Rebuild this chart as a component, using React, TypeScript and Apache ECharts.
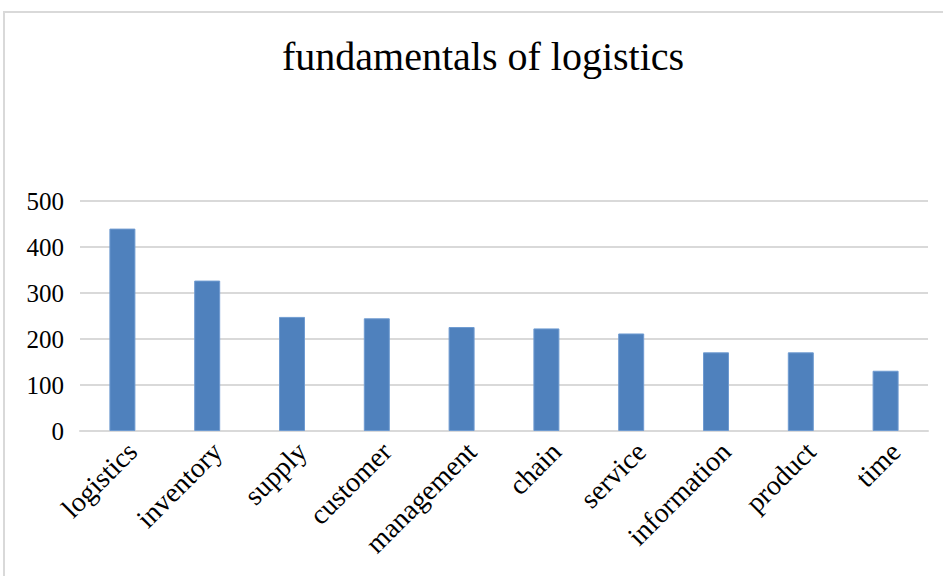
import React, { useEffect, useRef } from "react";
import * as echarts from "echarts";

const titleText = "fundamentals of logistics";
const categories = ["logistics", "inventory", "supply", "customer", "management", "chain", "service", "information", "product", "time"];
const values = [440, 327, 248, 245, 226, 223, 212, 171, 171, 131];
const yTicks = [0, 100, 200, 300, 400, 500];

export default function App() {
  const ref = useRef<HTMLDivElement>(null);
  useEffect(() => {
    if (!ref.current) return;
    const chart = echarts.init(ref.current, undefined, { renderer: "svg" });
    const font = "Liberation Serif";
    chart.setOption({
      animation: false,
      backgroundColor: "#ffffff",
      graphic: [
        {
          type: "rect",
          shape: { x: 4, y: 12, width: 960, height: 600 },
          style: { fill: "none", stroke: "#d9d9d9", lineWidth: 2 },
          silent: true,
        },
      ],
      title: {
        text: titleText,
        left: 277,
        top: 31,
        textStyle: { fontFamily: font, fontSize: 40, fontWeight: "normal", color: "#000" },
      },
      grid: { left: 80, right: 15, top: 201, bottom: 145, containLabel: false },
      xAxis: {
        type: "category",
        data: categories,
        axisLine: { show: true, lineStyle: { color: "#d9d9d9", width: 2 } },
        axisTick: { show: false },
        axisLabel: {
          rotate: 45,
          interval: 0,
          margin: 6,
          verticalAlign: "top",
          fontFamily: font,
          fontSize: 28,
          color: "#000",
        },
      },
      yAxis: {
        type: "value",
        min: 0,
        max: 500,
        interval: 100,
        axisLine: { show: false },
        axisTick: { show: false },
        splitLine: { lineStyle: { color: "#d9d9d9", width: 2 } },
        axisLabel: {
          margin: 16,
          fontFamily: font,
          fontSize: 25,
          color: "#000",
          formatter: (v: number) => (yTicks.includes(v) ? String(v) : ""),
        },
      },
      series: [
        {
          type: "bar",
          data: values,
          barWidth: 26,
          itemStyle: { color: "#4f81bd", borderColor: "#6f9bd1", borderWidth: 1 },
        },
      ],
    });
    return () => chart.dispose();
  }, []);
  return <div ref={ref} style={{ width: 943, height: 576, position: "absolute", left: 0, top: 0 }} />;
}
